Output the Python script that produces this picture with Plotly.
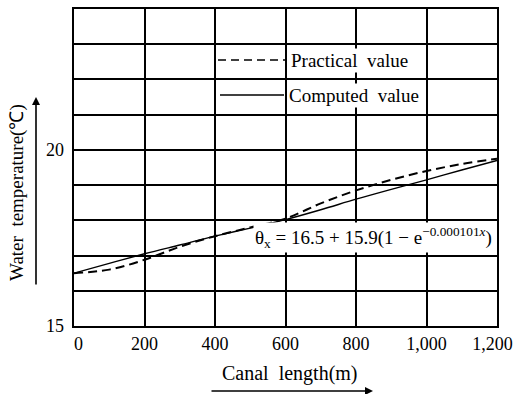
import plotly.graph_objects as go

# Data
canal_length = [0, 100, 200, 300, 400, 500, 600, 700, 800, 900, 1000, 1100, 1200]
practical_value = [16.5, 16.6, 16.88, 17.25, 17.55, 17.8, 18.05, 18.48, 18.85, 19.15, 19.4, 19.6, 19.75]
computed_value = [16.5, 16.78, 17.05, 17.3, 17.55, 17.78, 18.02, 18.3, 18.6, 18.88, 19.15, 19.43, 19.7]

x_tickvals = [0, 200, 400, 600, 800, 1000, 1200]
x_ticktext = ["&nbsp;&nbsp;0", "200", "400", "600", "800", "1,000", "1,200&nbsp;&nbsp;"]
y_tickvals = [15, 16, 17, 18, 19, 20, 21, 22, 23, 24]
y_ticktext = ["15&nbsp;", "", "", "", "", "20&nbsp;", "", "", "", ""]

FONT = "Liberation Serif"

fig = go.Figure()
fig.add_trace(go.Scatter(x=canal_length, y=computed_value, mode="lines",
                         line=dict(color="black", width=1.4), line_shape="spline",
                         name="Computed value", showlegend=False))
fig.add_trace(go.Scatter(x=canal_length, y=practical_value, mode="lines",
                         line=dict(color="black", width=2, dash="9px,5px"), line_shape="spline",
                         name="Practical value", showlegend=False))

L, R, T, B = 74, 18, 9, 68
W, H = 515, 394
pw, ph = W - L - R, H - T - B

def px(x):
    return (x - L) / pw

def py(y):
    return (H - B - y) / ph

shapes = [
    dict(type="line", xref="paper", yref="paper", x0=px(218), x1=px(285), y0=py(60), y1=py(60),
         line=dict(color="black", width=1.5, dash="8px,5px")),
    dict(type="line", xref="paper", yref="paper", x0=px(220), x1=px(284), y0=py(95), y1=py(95),
         line=dict(color="black", width=1.5)),
]

annotations = [
    dict(text="Practical  value", xref="paper", yref="paper", x=px(289), y=py(61),
         xanchor="left", yanchor="middle", showarrow=False, bgcolor="white",
         font=dict(family=FONT, size=19, color="black")),
    dict(text="Computed  value", xref="paper", yref="paper", x=px(287), y=py(96),
         xanchor="left", yanchor="middle", showarrow=False, bgcolor="white",
         font=dict(family=FONT, size=19, color="black")),
    dict(text="θ<sub>x</sub> = 16.5 + 15.9(1 − e<sup>−0.000101<i>x</i></sup>)", xref="paper", yref="paper",
         x=px(253), y=py(237), xanchor="left", yanchor="middle", showarrow=False, bgcolor="white",
         font=dict(family=FONT, size=19, color="black")),
    dict(text="Water  temperature(℃)", xref="paper", yref="paper", x=px(17), y=py(193),
         xanchor="center", yanchor="middle", textangle=-90, showarrow=False,
         font=dict(family=FONT, size=19, color="black")),
    dict(text="Canal  length(m)", xref="paper", yref="paper", x=px(290), y=py(373),
         xanchor="center", yanchor="middle", showarrow=False,
         font=dict(family=FONT, size=20, color="black")),
    # axis arrows
    dict(text="", xref="paper", yref="paper", x=px(36), y=py(97), ax=0, ay=189,
         axref="pixel", ayref="pixel", showarrow=True, arrowhead=2, arrowsize=1, arrowwidth=1.6,
         arrowcolor="black"),
    dict(text="", xref="paper", yref="paper", x=px(373), y=py(391), ax=-163, ay=0,
         axref="pixel", ayref="pixel", showarrow=True, arrowhead=2, arrowsize=1, arrowwidth=1.6,
         arrowcolor="black"),
]

fig.update_layout(
    width=W, height=H,
    margin=dict(l=L, r=R, t=T, b=B, autoexpand=False),
    paper_bgcolor="white", plot_bgcolor="white",
    shapes=shapes, annotations=annotations,
    font=dict(family=FONT, size=16, color="black"),
)
fig.update_xaxes(range=[0, 1200], tickvals=x_tickvals, ticktext=x_ticktext,
                 showgrid=True, gridcolor="black", gridwidth=1.5, zeroline=False,
                 showline=True, linecolor="black", linewidth=2, mirror=True,
                 ticks="", ticklabeloverflow="allow", automargin=False,
                 tickfont=dict(family=FONT, size=18, color="black"))
fig.update_yaxes(range=[15, 24], tickvals=y_tickvals, ticktext=y_ticktext,
                 showgrid=True, gridcolor="black", gridwidth=1.5, zeroline=False,
                 showline=True, linecolor="black", linewidth=2, mirror=True,
                 ticks="", automargin=False,
                 tickfont=dict(family=FONT, size=18, color="black"))

fig.write_html("out.html", config={"displayModeBar": False},
               post_script="document.body.style.margin='0';")
